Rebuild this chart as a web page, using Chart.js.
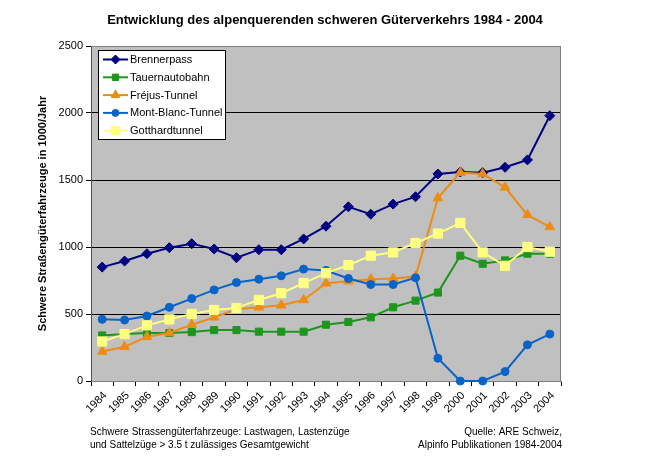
<!DOCTYPE html>
<html>
<head>
<meta charset="utf-8">
<script src="https://cdn.jsdelivr.net/npm/chart.js@4.4.0/dist/chart.umd.min.js"></script>
<style>
  body { margin: 0; background: #fff; }
  #wrap { width: 650px; height: 457px; }
</style>
</head>
<body>
<div id="wrap"><canvas id="chart" width="650" height="457"></canvas></div>
<script>
// values, in 1000 vehicles per year
var years = ['1984', '1985', '1986', '1987', '1988', '1989', '1990', '1991', '1992', '1993', '1994',
             '1995', '1996', '1997', '1998', '1999', '2000', '2001', '2002', '2003', '2004'];
var brenner   = [850, 895, 950, 995, 1025, 985, 920, 980, 980, 1060, 1155, 1300, 1245, 1320, 1375, 1545, 1560, 1555, 1595, 1650, 1980];
var tauern    = [340, 350, 358, 358, 365, 380, 380, 368, 368, 368, 420, 440, 475, 550, 600, 660, 935, 875, 900, 950, 950];
var frejus    = [220, 255, 330, 358, 420, 475, 535, 550, 565, 605, 730, 745, 760, 765, 780, 1365, 1555, 1545, 1445, 1240, 1150];
var montBlanc = [460, 455, 485, 550, 615, 680, 735, 760, 785, 835, 825, 765, 720, 720, 770, 170, 0, 0, 70, 270, 350];
var gotthard  = [295, 350, 415, 460, 500, 530, 545, 605, 655, 730, 805, 865, 935, 960, 1030, 1100, 1180, 960, 860, 1000, 965];
var yTicks = [0, 500, 1000, 1500, 2000, 2500];

var font = "'Liberation Sans', Arial, sans-serif";

function series(label, data, color, style, radius, order) {
    return {
        label: label,
        data: data,
        borderColor: color,
        backgroundColor: color,
        borderWidth: 2,
        pointStyle: style,
        pointRadius: radius,
        pointHoverRadius: radius,
        pointBackgroundColor: color,
        pointBorderColor: color,
        pointBorderWidth: 1,
        tension: 0,
        clip: false,
        order: order
    };
}

var bgPlugin = {
    id: 'plotBg',
    beforeDraw: function(chart) {
        var ctx = chart.ctx, a = chart.chartArea;
        ctx.save();
        ctx.fillStyle = '#fff';
        ctx.fillRect(0, 0, chart.width, chart.height);
        ctx.fillStyle = '#c0c0c0';
        ctx.fillRect(a.left, a.top, a.right - a.left, a.bottom - a.top);
        ctx.restore();
    },
    beforeDatasetsDraw: function(chart) {
        var ctx = chart.ctx, a = chart.chartArea;
        ctx.save();
        ctx.strokeStyle = '#808080';
        ctx.lineWidth = 1;
        ctx.beginPath();
        ctx.moveTo(a.left, a.top + 0.5);
        ctx.lineTo(a.right - 0.5, a.top + 0.5);
        ctx.lineTo(a.right - 0.5, a.bottom);
        ctx.stroke();
        ctx.restore();
    },
    afterDraw: function(chart) {
        var ctx = chart.ctx;
        ctx.save();
        // title
        ctx.fillStyle = '#000';
        ctx.textBaseline = 'middle';
        ctx.textAlign = 'center';
        ctx.font = 'bold 13px ' + font;
        ctx.fillText('Entwicklung des alpenquerenden schweren Güterverkehrs 1984 - 2004', 325, 20);

        // legend box
        ctx.fillStyle = '#fff';
        ctx.fillRect(98.5, 50.5, 127, 89);
        ctx.strokeStyle = '#000';
        ctx.lineWidth = 1;
        ctx.strokeRect(98.5, 50.5, 127, 89);
        ctx.font = '11px ' + font;
        ctx.textAlign = 'left';
        var items = chart.data.datasets;
        items.forEach(function(ds, i) {
            var y = 59.5 + i * 17.8;
            ctx.strokeStyle = ds.borderColor;
            ctx.lineWidth = 2;
            ctx.beginPath();
            ctx.moveTo(103, y);
            ctx.lineTo(128, y);
            ctx.stroke();
            ctx.fillStyle = ds.pointBackgroundColor;
            ctx.lineWidth = 1;
            Chart.helpers.drawPoint(ctx, {pointStyle: ds.pointStyle, radius: ds.pointRadius - 0.5, borderWidth: 1, rotation: 0}, 115.5, y);
            ctx.fillStyle = '#000';
            ctx.fillText(ds.label, 130, y + 0.5);
        });

        // footnotes
        ctx.font = '10px ' + font;
        ctx.fillStyle = '#000';
        ctx.textAlign = 'left';
        ctx.fillText('Schwere Strassengüterfahrzeuge: Lastwagen, Lastenzüge', 90, 432);
        ctx.fillText('und Sattelzüge > 3.5 t zulässiges Gesamtgewicht', 90, 445);
        ctx.textAlign = 'right';
        ctx.fillText('Quelle: ARE Schweiz,', 562, 432);
        ctx.fillText('Alpinfo Publikationen 1984-2004', 562, 445);
        ctx.restore();
    }
};

new Chart(document.getElementById('chart'), {
    type: 'line',
    data: {
        labels: years,
        datasets: [
            series('Brennerpass', brenner, '#000080', 'rectRot', 5, 5),
            series('Tauernautobahn', tauern, '#1e961e', 'rect', 5, 4),
            series('Fréjus-Tunnel', frejus, '#eb8c14', 'triangle', 5.5, 3),
            series('Mont-Blanc-Tunnel', montBlanc, '#0a64c8', 'circle', 4, 2),
            series('Gotthardtunnel', gotthard, '#ffff80', 'rect', 6.5, 1)
        ]
    },
    plugins: [bgPlugin],
    options: {
        responsive: false,
        animation: false,
        layout: { padding: { left: 0, top: 46, right: 89, bottom: 0 } },
        plugins: {
            legend: { display: false },
            title: { display: false },
            tooltip: { enabled: false }
        },
        scales: {
            x: {
                offset: true,
                afterFit: function(scale) { scale.height = 76; },
                grid: { offset: true, drawOnChartArea: false, drawTicks: true, tickLength: 5, color: '#000' },
                border: { color: '#808080', width: 1 },
                ticks: {
                    autoSkip: false, minRotation: 45, maxRotation: 45, labelOffset: 3,
                    color: '#000', font: { family: font, size: 11 }
                }
            },
            y: {
                min: 0,
                max: 2500,
                afterFit: function(scale) { scale.width = 91; },
                afterBuildTicks: function(scale) {
                    scale.ticks = yTicks.map(function(v) { return { value: v }; });
                },
                grid: {
                    color: function(c) {
                        return (c.tick && (c.tick.value === 0 || c.tick.value === 2500)) ? '#808080' : '#000';
                    },
                    tickColor: '#000',
                    tickLength: 5
                },
                border: { color: '#505050', width: 1 },
                ticks: {
                    color: '#000', font: { family: font, size: 11 },
                    callback: function(v) { return String(v); }
                },
                title: {
                    display: true,
                    text: 'Schwere Straßengüterfahrzeuge in 1000/Jahr',
                    color: '#000',
                    font: { family: font, size: 11, weight: 'bold' },
                    padding: { top: 36, bottom: 0 }
                }
            }
        }
    }
});
</script>
</body>
</html>
